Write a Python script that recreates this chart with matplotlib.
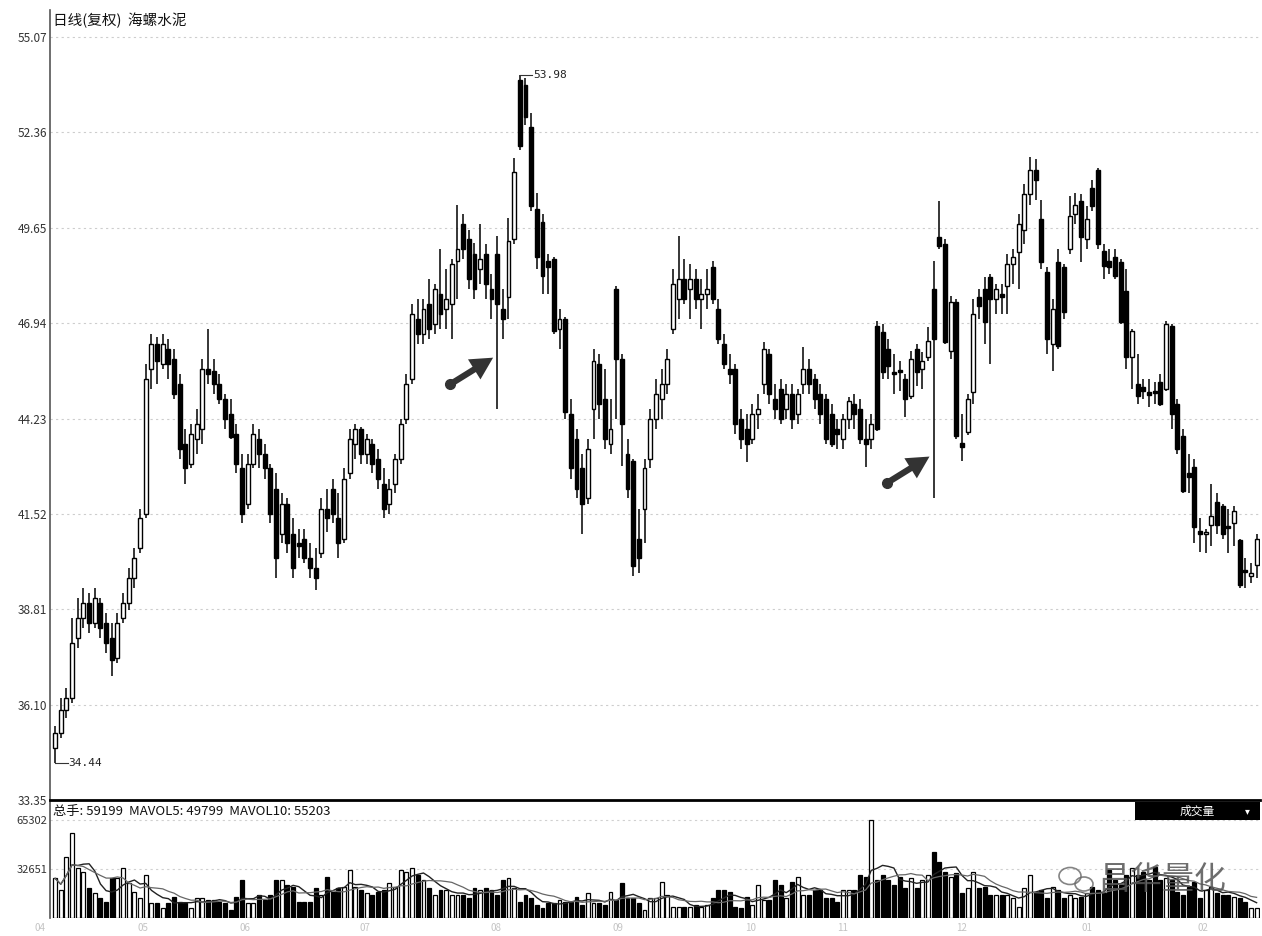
import numpy as np
import pandas as pd
import matplotlib
matplotlib.use("Agg")
import matplotlib.pyplot as plt
from matplotlib.patches import Rectangle, Ellipse

plt.rcParams['font.family'] = ['Noto Sans CJK SC', 'DejaVu Sans']

# ---------------- data ----------------
open_ = [34.87,35.30,35.95,36.29,37.99,38.56,38.98,38.41,38.98,38.41,37.99,37.42,38.56,38.98,39.69,40.54,41.53,45.64,46.35,45.78,
         46.20,45.92,45.21,43.51,42.95,43.65,43.94,45.64,45.58,45.21,44.79,44.36,43.80,42.81,41.81,42.95,43.65,43.23,42.81,42.24,
         40.96,41.81,40.96,40.68,40.82,40.26,39.97,40.40,41.67,42.24,41.39,40.82,42.67,43.51,43.94,43.23,43.51,43.09,42.38,41.81,
         42.38,43.09,44.22,45.35,47.05,46.63,47.48,46.91,47.76,47.34,47.48,48.70,49.75,49.32,48.90,48.47,48.90,47.90,48.90,47.34,
         47.68,49.32,53.85,53.70,52.52,50.17,49.80,48.70,48.76,46.77,47.05,44.36,43.65,42.81,41.96,44.50,45.78,44.79,43.51,47.90,
         45.92,43.23,43.01,40.82,41.67,43.09,44.22,44.79,45.21,46.77,47.62,48.19,47.90,48.19,47.62,47.76,48.53,47.34,46.35,45.64,
         45.64,44.22,43.94,43.65,44.36,45.21,46.06,44.79,45.07,44.50,44.93,44.36,45.21,45.64,45.35,44.93,44.79,44.36,43.94,43.65,
         44.22,44.65,44.50,43.65,43.65,46.86,46.69,46.20,45.55,45.61,45.35,44.87,46.20,45.64,45.98,47.90,49.38,49.18,46.15,47.54,
         43.54,43.85,44.99,47.68,47.90,48.24,47.62,47.76,47.99,48.61,48.95,49.60,50.60,51.30,49.89,48.39,46.35,48.67,48.53,49.04,
         50.03,50.40,49.32,50.79,51.30,48.98,48.70,48.81,48.67,47.85,45.98,45.21,45.13,44.99,45.02,45.27,45.07,46.86,44.65,43.74,
         42.67,42.86,41.02,40.96,41.19,41.87,41.73,41.16,41.25,40.77,39.92,39.75,40.06]
high = [35.50,36.29,36.57,38.56,39.12,39.40,39.26,39.40,39.12,38.70,38.41,38.70,39.26,39.97,40.54,41.67,45.78,46.63,46.54,46.63,
        46.49,46.20,45.50,43.94,44.08,44.50,45.92,46.77,45.92,45.50,44.93,44.79,44.08,43.23,43.23,44.08,43.94,43.51,42.95,42.67,
        42.10,41.96,41.39,41.10,41.10,40.68,40.54,41.96,42.24,42.52,42.10,42.81,43.94,44.08,44.00,43.80,43.65,43.37,42.81,42.52,
        43.23,44.22,45.50,47.48,47.62,47.62,48.19,48.05,49.04,48.47,48.76,50.31,50.03,49.60,49.23,49.75,49.18,48.33,49.41,47.90,
        49.94,51.64,53.98,53.90,52.92,50.65,50.03,48.90,48.81,47.34,47.11,44.79,43.94,43.23,43.65,46.20,46.06,45.64,44.79,47.99,
        46.06,43.65,43.09,41.67,43.09,44.50,45.35,45.64,46.20,48.47,49.41,48.76,48.61,48.47,48.19,48.47,48.70,47.62,46.63,46.06,
        45.78,44.50,44.36,44.65,44.93,46.40,46.20,45.21,45.35,45.21,45.21,45.07,46.26,45.92,45.50,45.21,44.93,44.65,44.22,44.36,
        44.84,44.93,44.79,44.22,44.36,47.00,46.91,46.49,46.06,45.87,45.50,46.15,46.35,46.12,46.83,48.70,50.40,49.32,47.71,47.62,
        44.36,44.93,47.62,47.90,48.24,48.33,48.05,48.05,48.90,49.04,50.03,50.88,51.67,51.59,50.45,48.53,47.62,49.04,48.61,50.54,
        50.65,50.60,50.26,51.02,51.36,49.18,49.04,49.04,48.76,48.47,46.77,46.06,45.35,45.35,45.27,45.50,46.99,46.91,44.79,43.94,
        43.23,43.09,41.39,41.10,42.38,42.10,41.81,41.67,41.73,40.82,40.26,40.12,40.96]
low = [34.44,35.16,35.72,36.15,37.71,38.27,38.13,38.27,37.99,37.56,36.91,37.28,38.41,38.78,39.40,40.40,41.39,45.07,45.21,45.64,
       45.35,44.79,43.09,42.38,42.81,43.23,43.51,45.21,44.93,44.65,43.94,43.65,42.67,41.25,41.67,42.81,42.81,42.52,41.25,39.69,
       40.68,40.40,39.69,40.26,40.12,39.69,39.35,40.26,41.01,41.25,40.26,40.68,42.52,43.09,42.95,42.95,42.67,42.24,41.39,41.53,
       42.10,42.95,44.08,45.21,46.35,46.35,46.49,46.63,46.77,46.77,46.49,47.62,48.76,47.90,47.62,48.05,47.62,47.05,44.50,46.49,
       47.05,49.18,51.87,52.58,50.12,48.47,47.76,47.76,46.63,46.20,44.22,42.52,41.96,40.96,41.81,43.65,44.22,43.37,43.23,44.22,
       42.88,41.96,39.75,39.83,40.68,42.81,43.94,44.22,44.93,46.63,47.05,47.48,47.05,47.34,46.77,47.34,47.48,46.35,45.64,45.21,
       43.80,43.37,42.99,43.51,43.94,44.93,44.65,44.22,44.08,44.22,43.94,44.08,44.93,44.93,44.50,44.08,43.51,43.43,43.37,43.37,
       43.94,43.94,43.51,42.86,43.37,43.88,45.35,45.35,44.93,45.02,44.28,44.79,45.16,45.07,45.86,41.96,49.04,46.35,45.92,43.65,
       43.03,43.77,44.65,47.05,46.35,45.78,47.20,47.20,47.20,48.05,47.90,49.18,50.31,50.45,48.47,46.06,45.58,46.20,47.05,48.90,
       49.75,48.67,49.04,50.12,49.04,48.19,48.33,48.19,46.91,45.64,45.07,44.65,44.79,44.56,44.65,44.59,45.02,43.94,43.23,42.10,
       42.10,40.68,40.45,40.40,40.60,40.96,40.82,40.40,40.60,39.40,39.40,39.55,39.69]
close = [35.30,35.95,36.29,37.85,38.56,38.98,38.41,39.12,38.27,37.85,37.37,38.41,38.98,39.69,40.26,41.39,45.35,46.35,45.87,46.35,
         45.78,44.93,43.37,42.81,43.80,44.08,45.64,45.50,45.21,44.79,44.22,43.70,42.95,41.53,42.95,43.80,43.23,42.81,41.53,40.26,
         41.81,40.68,39.97,40.60,40.26,39.97,39.69,41.67,41.39,41.53,40.68,42.52,43.65,43.94,43.23,43.65,42.95,42.52,41.67,42.24,
         43.09,44.08,45.21,47.20,46.63,47.34,46.77,47.90,47.20,47.62,48.61,49.04,49.04,48.19,47.90,48.76,48.05,47.62,47.48,47.05,
         49.26,51.22,51.96,52.80,50.26,48.81,48.27,48.53,46.72,47.05,44.42,42.81,42.24,41.81,43.37,45.87,44.65,43.65,43.94,45.92,
         44.08,42.24,40.03,40.26,42.81,44.22,44.93,45.21,45.92,48.05,48.19,47.62,48.19,47.62,47.76,47.90,47.62,46.49,45.78,45.50,
         44.08,43.65,43.51,44.36,44.50,46.20,44.93,44.50,44.22,44.93,44.22,44.93,45.64,45.21,44.79,44.36,43.65,43.51,43.80,44.22,
         44.73,44.36,43.65,43.51,44.08,43.94,45.55,45.72,45.50,45.55,44.79,45.92,45.55,45.87,46.43,46.49,49.12,46.40,47.54,43.74,
         43.43,44.79,47.20,47.42,46.97,47.62,47.90,47.68,48.61,48.81,49.75,50.60,51.30,51.02,48.67,46.49,47.34,46.29,47.25,49.97,
         50.31,49.38,49.89,50.26,49.18,48.56,48.53,48.27,46.97,45.98,46.71,44.87,45.02,44.90,44.96,44.65,46.91,44.36,43.37,42.18,
         42.58,41.16,40.96,40.99,41.47,41.19,40.96,41.13,41.59,39.49,39.86,39.83,40.82]
volume = [26400,18600,40400,56400,33100,30900,19800,16400,13100,10900,26400,26400,33100,23100,17500,13100,28600,9800,9800,6400,
          9800,14200,10900,9800,6400,13100,13100,12000,12000,10900,9800,5300,14200,25300,9800,9800,15300,12000,15300,25300,
          25300,22000,20900,10900,10900,10900,19800,15300,27500,17500,19800,20900,32000,20900,18600,16400,15300,17500,18600,23100,
          20900,32000,30900,33100,28600,25300,19800,15300,18600,18600,15300,15300,15300,13100,19800,18600,19800,18600,15300,25300,
          26400,19800,10900,15300,13100,8700,6400,9800,9800,12000,10900,10900,14200,8700,16400,9800,9800,8700,17500,12000,
          23100,13100,13100,9800,5300,13100,13100,24000,15300,7500,7500,7500,7500,8700,7500,8700,13100,18600,18600,17500,
          7500,6400,14200,8700,22000,12000,12000,25300,22000,13100,24000,27500,15300,15300,18600,18600,13100,13100,10900,18600,
          18600,18600,28600,27500,65300,25300,28600,25300,22000,27500,19800,26400,19800,25300,28600,44200,37500,30900,27500,29800,
          16400,19800,30900,19800,20900,15300,15300,15300,15300,13100,7500,19800,28600,17500,18600,13100,20900,18600,13100,15300,
          13100,14200,16400,20900,18600,16400,32000,25300,22000,28600,33100,28600,30900,25300,34200,25300,26400,25300,17500,15300,
          20900,24000,13100,18600,20900,16400,15300,15300,14200,13100,10900,6400,6400]

price_ticks = [55.07, 52.36, 49.65, 46.94, 44.23, 41.52, 38.81, 36.10, 33.39]
price_tick_labels = ["55.07", "52.36", "49.65", "46.94", "44.23", "41.52", "38.81", "36.10", "33.35"]
vol_ticks = [65302, 32651]
vol_tick_labels = ["65302", "32651"]
month_labels = ["04", "05", "06", "07", "08", "09", "10", "11", "12", "01", "02"]
month_pos = [-2.6, 15.5, 33.5, 54.7, 77.8, 99.3, 122.8, 139.0, 160.0, 182.0, 202.6]

title_text = "日线(复权)  海螺水泥"
vol_header = "总手: 59199  MAVOL5: 49799  MAVOL10: 55203"
arrow_candles = [78, 155]

# ---------------- figure ----------------
W, H = 1262, 936
fig = plt.figure(figsize=(W / 100, H / 100), dpi=100)
fig.patch.set_facecolor("white")

left_px, right_px = 50, 1260
ax = fig.add_axes([left_px / W, (H - 800) / H, (right_px - left_px) / W, (800 - 10) / H])
axv = fig.add_axes([left_px / W, (H - 918) / H, (right_px - left_px) / W, (918 - 800) / H])

n = len(close)
x = np.arange(n)
o = np.array(open_); c = np.array(close); h = np.array(high); l = np.array(low)
up = c >= o

ppu = 763 / (55.07 - 33.39)
ax.set_ylim(33.39, 55.07 + 27 / ppu)
ax.set_xlim(-0.9, n - 0.4)
axv.set_xlim(-0.9, n - 0.4)

# grid
for t in price_ticks:
    ax.axhline(t, color="#cdcdcd", lw=0.8, ls=(0, (2, 3)), zorder=0)

# candles
bw = 0.7
ax.vlines(x, l, h, color="black", lw=1.1, zorder=2)
body_bot = np.minimum(o, c)
body_h = np.maximum(np.abs(c - o), 0.04)
ax.bar(x[up], body_h[up], bottom=body_bot[up], width=bw, facecolor="white",
       edgecolor="black", lw=1.0, zorder=3)
ax.bar(x[~up], body_h[~up], bottom=body_bot[~up], width=bw, facecolor="black",
       edgecolor="black", lw=1.0, zorder=3)

# high / low labels
imax = int(np.argmax(h)); imin = int(np.argmin(l))
ax.plot([imax, imax + 2.2], [h[imax], h[imax]], color="#333", lw=0.8, zorder=4)
ax.text(imax + 2.4, h[imax], f"{h[imax]:.2f}", fontsize=8, va="center", ha="left",
        color="#222", family="DejaVu Sans Mono")
ax.plot([imin, imin + 2.2], [l[imin], l[imin]], color="#333", lw=0.8, zorder=4)
ax.text(imin + 2.4, l[imin], f"{l[imin]:.2f}", fontsize=8, va="center", ha="left",
        color="#222", family="DejaVu Sans Mono")

# arrows
for ai, dy in zip(arrow_candles, [1.5, 1.23]):
    hx, hy = ai - 0.3, l[ai] + dy
    tx, ty = ai - 8.3, l[ai] + dy - 0.8
    ax.annotate("", xy=(hx, hy), xytext=(tx, ty),
                arrowprops=dict(arrowstyle="simple,head_length=1.6,head_width=1.7,tail_width=0.45",
                                color="#333333", lw=0), zorder=6)
    ax.plot([tx], [ty], marker="o", ms=7, color="#333333", zorder=6)

ax.set_yticks(price_ticks)
ax.set_yticklabels(price_tick_labels)
ax.tick_params(axis="y", length=0, labelsize=8.5, labelcolor="#333", pad=2)
ax.set_xticks([])
for s in ["top", "right", "bottom"]:
    ax.spines[s].set_visible(False)
ax.spines["left"].set_color("#555")
ax.spines["left"].set_linewidth(1.2)

# volume
vol = np.array(volume, dtype=float)
axv.set_ylim(0, 65302 * 118 / 98)
for t in vol_ticks:
    axv.axhline(t, color="#d0d0d0", lw=0.8, ls=(0, (2, 3)), zorder=0)
axv.bar(x[up], vol[up], width=bw, facecolor="white", edgecolor="black", lw=0.9, zorder=2)
axv.bar(x[~up], vol[~up], width=bw, facecolor="black", edgecolor="black", lw=0.9, zorder=2)
ma5 = pd.Series(vol).rolling(5, min_periods=1).mean()
ma10 = pd.Series(vol).rolling(10, min_periods=1).mean()
axv.plot(x, ma5, color="#222", lw=1.0, zorder=3)
axv.plot(x, ma10, color="#666", lw=0.9, zorder=3)
axv.set_yticks(vol_ticks)
axv.set_yticklabels(vol_tick_labels)
axv.tick_params(axis="y", length=0, labelsize=8, labelcolor="#333", pad=2)
axv.set_xticks([])
for s in ["bottom", "right"]:
    axv.spines[s].set_visible(False)
axv.spines["top"].set_color("black")
axv.spines["top"].set_linewidth(2.0)
axv.spines["left"].set_color("#555")
axv.spines["left"].set_linewidth(1.2)
for mp, ml in zip(month_pos, month_labels):
    axv.text(mp, -0.085, ml, transform=axv.get_xaxis_transform(), ha="center", va="center",
             fontsize=7, color="#c4c4c4", clip_on=False)

# texts
fig.text(53 / W, 1 - 20 / H, title_text, fontsize=10.5, va="center", ha="left", color="#111")
fig.text(53 / W, 1 - 811 / H, vol_header, fontsize=9.5, va="center", ha="left", color="#111")
fig.patches.append(Rectangle((1135 / W, 1 - 820 / H), (1260 - 1135) / W, 18 / H,
                             transform=fig.transFigure, facecolor="black", edgecolor="none", zorder=5))
fig.text(1197 / W, 1 - 811 / H, "成交量", fontsize=8.5, va="center", ha="center", color="white", zorder=6)
fig.text(1247 / W, 1 - 811 / H, "▾", fontsize=7, va="center", ha="center", color="white", zorder=6)
# watermark
fig.patches.append(Ellipse((1070 / W, 1 - 876 / H), 22 / W, 17 / H, transform=fig.transFigure,
                           facecolor="none", edgecolor="#666", lw=1.2, alpha=0.8, zorder=7))
fig.patches.append(Ellipse((1084 / W, 1 - 884 / H), 18 / W, 14 / H, transform=fig.transFigure,
                           facecolor="none", edgecolor="#666", lw=1.2, alpha=0.8, zorder=7))
fig.text(1162 / W, 1 - 880 / H, "昌华量化", fontsize=23, va="center", ha="center",
         color="#555555", alpha=0.85, zorder=7)

fig.savefig("out.png", dpi=100, facecolor="white")
